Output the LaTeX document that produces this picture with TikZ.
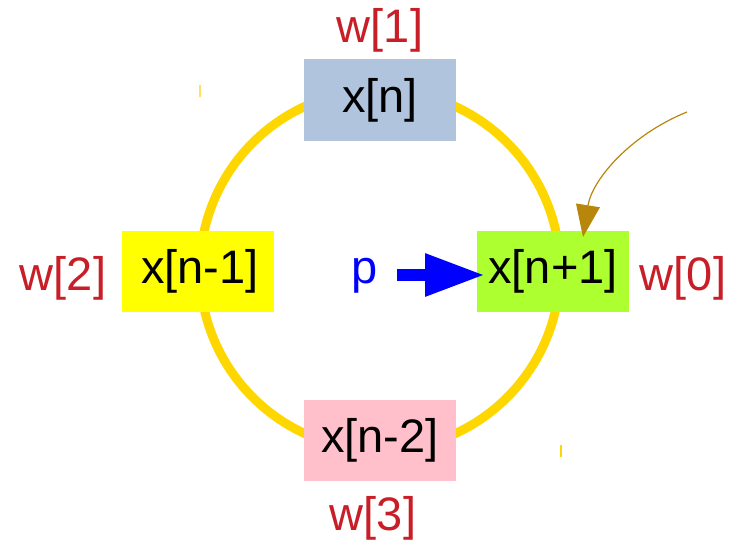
\documentclass[tikz,border=0pt]{standalone}
\usepackage{fontspec}
\setmainfont{Liberation Sans}
\usetikzlibrary{arrows.meta}
\definecolor{ringgold}{RGB}{255,215,0}
\definecolor{lblred}{RGB}{200,30,40}
\definecolor{boxblue}{RGB}{176,196,222}
\definecolor{boxyellow}{RGB}{255,255,0}
\definecolor{boxgreen}{RGB}{173,255,47}
\definecolor{boxpink}{RGB}{255,192,203}
\definecolor{pointerbrown}{RGB}{184,134,11}
\definecolor{tickyellow}{RGB}{255,225,90}
\tikzset{
  cell/.style={minimum width=152pt, minimum height=81pt, inner sep=0pt,
    font=\fontsize{47}{54}\selectfont},
  wlabel/.style={text=lblred, font=\fontsize{47}{54}\selectfont, inner sep=0pt},
  ring/.style={draw=ringgold, line width=9pt},
}
\begin{document}
\begin{tikzpicture}[x=1pt,y=-1pt]
\useasboundingbox (0,0) rectangle (736,543);
% ring
\draw[ring] (380,270) circle (180);
% cells
\node[cell, fill=boxblue] (xn) at (380,100) {x[n]};
\node[cell, fill=boxyellow] (xnm1) at (198,271) {\hspace{4pt}x[n-1]};
\node[cell, fill=boxgreen] (xnp1) at (553,271) {x[n+1]};
\node[cell, fill=boxpink] (xnm2) at (380,440) {x[n-2]};
% weight labels
\node[wlabel] (w1) at (380,30) {w[1]};
\node[wlabel] (w2) at (63,278) {w[2]};
\node[wlabel] (w0) at (683,278) {w[0]};
\node[wlabel] (w3) at (373,518) {w[3]};
% pointer p
\node[text=blue, font=\fontsize{47}{54}\selectfont, inner sep=0pt] (p) at (365,276) {p};
\coordinate (pstart) at (397,275);
\coordinate (pend) at (485,275);
\draw[blue, line width=12pt, -{Triangle[length=60pt,width=40pt]}] (pstart) -- (pend);
% brown pointer
\coordinate (bstart) at (687,112);
\coordinate (bend) at (583,237);
\draw[pointerbrown, line width=1.2pt, -{Triangle[length=32pt,width=24pt]}]
  (bstart) .. controls (630,135) and (592,180) .. (bend);
% small ticks
\draw[tickyellow, line width=2pt] (199.5,85) -- (199.5,97);
\draw[ringgold, line width=2pt] (560.5,445) -- (560.5,457);
\end{tikzpicture}
\end{document}
